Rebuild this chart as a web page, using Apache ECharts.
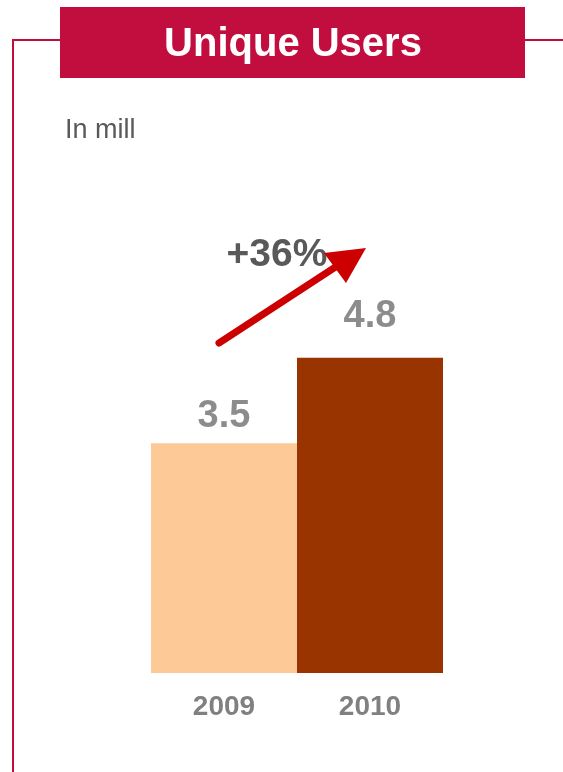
<!DOCTYPE html>
<html>
<head>
<meta charset="utf-8">
<script src="https://cdn.jsdelivr.net/npm/echarts@6/dist/echarts.min.js"></script>
<style>
  html, body { margin: 0; padding: 0; background: #ffffff; }
  #chart { width: 563px; height: 772px; }
</style>
</head>
<body>
<div id="chart"></div>
<script>
// Unique users per year, in millions
const years = ['2009', '2010'];
const users = [3.5, 4.8];
const barColors = ['#FDCA97', '#993300'];
const labelGaps = [8, 22];
const growthText = '+36%';
const titleText = 'Unique Users';
const unitText = 'In mill';

const FONT = '"Liberation Sans", Arial, sans-serif';
const CRIMSON = '#C20E3F';

const chart = echarts.init(document.getElementById('chart'), null, { renderer: 'canvas' });

const barData = users.map((v, i) => ({
  value: v,
  itemStyle: { color: barColors[i] },
  label: { distance: labelGaps[i] }
}));

chart.setOption({
  animation: false,
  backgroundColor: '#ffffff',
  grid: { left: 151, right: 120, top: 279, bottom: 99 },
  xAxis: {
    type: 'category',
    data: years,
    axisLine: { show: false },
    axisTick: { show: false },
    axisLabel: {
      margin: 20,
      color: '#808080',
      fontFamily: FONT,
      fontWeight: 'bold',
      fontSize: 28
    }
  },
  yAxis: {
    type: 'value',
    min: 0,
    max: 6,
    show: false,
    splitLine: { show: false }
  },
  series: [{
    type: 'bar',
    data: barData,
    barWidth: '100%',
    barCategoryGap: 0,
    label: {
      show: true,
      position: 'top',
      color: '#8C8C8C',
      fontFamily: FONT,
      fontWeight: 'bold',
      fontSize: 38,
      formatter: p => p.value.toFixed(1)
    }
  }],
  graphic: [
    // frame lines
    { type: 'polyline', z: 1, shape: { points: [[60, 40], [13, 40], [13, 772]] },
      style: { stroke: CRIMSON, lineWidth: 2, fill: null } },
    { type: 'line', z: 1, shape: { x1: 525, y1: 40, x2: 563, y2: 40 },
      style: { stroke: CRIMSON, lineWidth: 2 } },
    // title banner
    { type: 'rect', z: 2, shape: { x: 60, y: 7, width: 465, height: 71 },
      style: { fill: CRIMSON } },
    { type: 'text', z: 3, x: 293, y: 45,
      style: { text: titleText, fill: '#ffffff', font: 'bold 40px ' + FONT,
               textAlign: 'center', textVerticalAlign: 'middle' } },
    // unit note
    { type: 'text', z: 3, x: 65, y: 131,
      style: { text: unitText, fill: '#595959', font: '27px ' + FONT,
               textAlign: 'left', textVerticalAlign: 'middle' } },
    // growth annotation
    { type: 'text', z: 3, x: 277, y: 255,
      style: { text: growthText, fill: '#595959', font: 'bold 39px ' + FONT,
               textAlign: 'center', textVerticalAlign: 'middle' } },
    { type: 'line', z: 4, shape: { x1: 219, y1: 343, x2: 337, y2: 266 },
      style: { stroke: '#CC0000', lineWidth: 7, lineCap: 'round' } },
    { type: 'polygon', z: 4, shape: { points: [[366, 248], [324, 253], [346, 283]] },
      style: { fill: '#CC0000' } }
  ]
});
</script>
</body>
</html>
